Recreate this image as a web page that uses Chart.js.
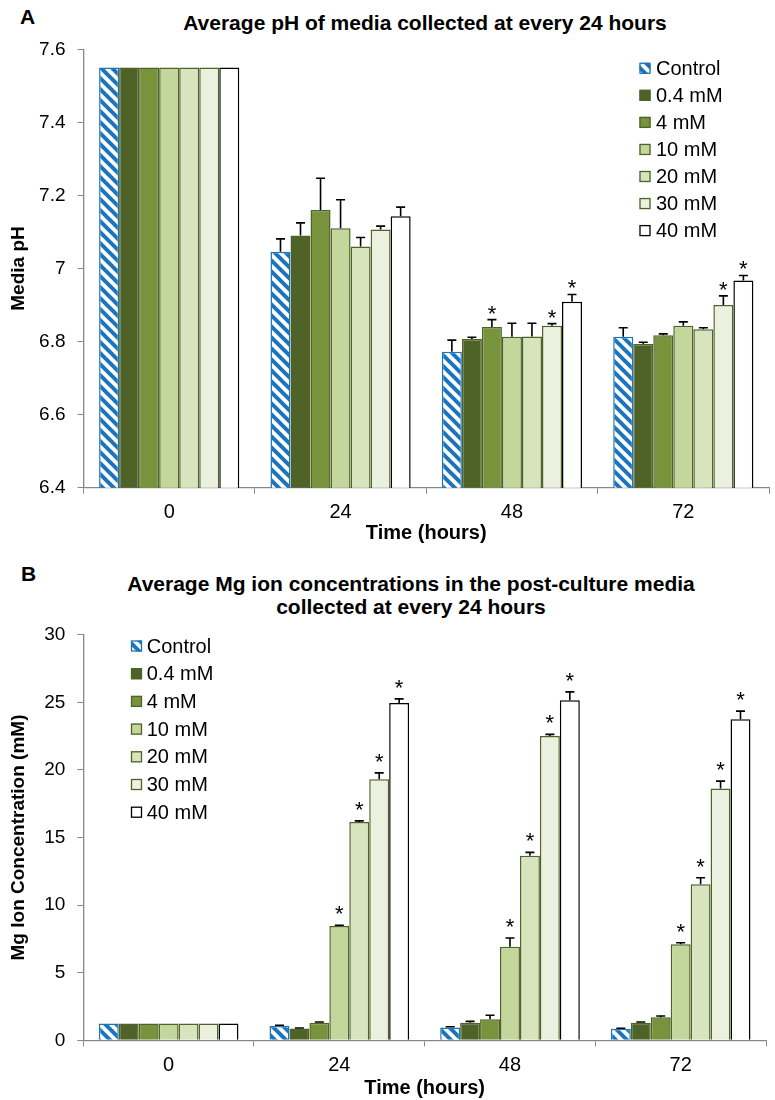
<!DOCTYPE html>
<html><head><meta charset="utf-8">
<script src="https://cdn.jsdelivr.net/npm/chart.js@4.4.1/dist/chart.umd.min.js"></script>
<style>
body{margin:0;background:#fff;width:775px;height:1100px;position:relative;overflow:hidden;font-family:"Liberation Sans",Arial,sans-serif;}
.t{position:absolute;font-weight:bold;color:#000;white-space:nowrap;line-height:24px;font-size:21px;}
canvas{position:absolute;left:0;}
</style></head><body>
<div class="t" style="left:20px;top:5px">A</div>
<div class="t" style="left:0;width:850px;text-align:center;top:11px">Average pH of media collected at every 24 hours</div>
<div class="t" style="left:21px;top:562px">B</div>
<div class="t" style="left:0;width:822px;text-align:center;top:572px">Average Mg ion concentrations in the post-culture media</div>
<div class="t" style="left:0;width:822px;text-align:center;top:595px">collected at every 24 hours</div>
<canvas id="cA" width="775" height="545" style="top:0"></canvas>
<canvas id="cB" width="775" height="555" style="top:545px"></canvas>
<script>
// ---------- data ----------
const categories = ['0', '24', '48', '72'];
const seriesNames = ['Control', '0.4 mM', '4 mM', '10 mM', '20 mM', '30 mM', '40 mM'];

// Panel A: media pH
const phControl = [7.55, 7.046, 6.772, 6.813];
const phMg04    = [7.55, 7.090, 6.807, 6.793];
const phMg4     = [7.55, 7.160, 6.840, 6.817];
const phMg10    = [7.55, 7.110, 6.813, 6.843];
const phMg20    = [7.55, 7.060, 6.814, 6.834];
const phMg30    = [7.55, 7.107, 6.843, 6.900];
const phMg40    = [7.55, 7.143, 6.909, 6.967];
const phErrControl = [null, 0.035, 0.032, 0.025];
const phErrMg04    = [null, 0.035, 0.005, 0.005];
const phErrMg4     = [null, 0.087, 0.020, 0.004];
const phErrMg10    = [null, 0.078, 0.037, 0.011];
const phErrMg20    = [null, 0.025, 0.036, 0.004];
const phErrMg30    = [null, 0.009, 0.006, 0.025];
const phErrMg40    = [null, 0.025, 0.020, 0.014];
const phStarControl = [0, 0, 0, 0];
const phStarMg04    = [0, 0, 0, 0];
const phStarMg4     = [0, 0, 1, 0];
const phStarMg10    = [0, 0, 0, 0];
const phStarMg20    = [0, 0, 0, 0];
const phStarMg30    = [0, 0, 1, 1];
const phStarMg40    = [0, 0, 1, 1];
const phTicks = ['6.4', '6.6', '6.8', '7', '7.2', '7.4', '7.6'];

// Panel B: Mg ion concentration (mM)
const mgControl = [1.25, 1.05, 0.95, 0.85];
const mgMg04    = [1.25, 0.87, 1.30, 1.30];
const mgMg4     = [1.25, 1.30, 1.55, 1.70];
const mgMg10    = [1.25, 8.45, 6.92, 7.10];
const mgMg20    = [1.25, 16.15, 13.65, 11.55];
const mgMg30    = [1.25, 19.30, 22.50, 18.62];
const mgMg40    = [1.25, 24.95, 25.15, 23.75];
const mgErrControl = [null, 0.06, 0.05, 0.04];
const mgErrMg04    = [null, 0.04, 0.10, 0.05];
const mgErrMg4     = [null, 0.05, 0.30, 0.10];
const mgErrMg10    = [null, 0.06, 0.65, 0.12];
const mgErrMg20    = [null, 0.08, 0.25, 0.47];
const mgErrMg30    = [null, 0.48, 0.13, 0.55];
const mgErrMg40    = [null, 0.30, 0.62, 0.60];
const mgStarControl = [0, 0, 0, 0];
const mgStarMg04    = [0, 0, 0, 0];
const mgStarMg4     = [0, 0, 0, 0];
const mgStarMg10    = [0, 1, 1, 1];
const mgStarMg20    = [0, 1, 1, 1];
const mgStarMg30    = [0, 1, 1, 1];
const mgStarMg40    = [0, 1, 1, 1];
const mgTicks = ['0', '5', '10', '15', '20', '25', '30'];

// ---------- styles ----------
const FONT = '"Liberation Sans", Arial, sans-serif';
Chart.defaults.font.family = FONT;
Chart.defaults.color = '#000';
const BLUE = '#1C75BC';
const OLIVE = '#4F6228';
const fills = [null, '#4F6228', '#77933C', '#C3D69B', '#D7E4BD', '#EBF1DE', '#FFFFFF'];
const borders = [BLUE, OLIVE, OLIVE, OLIVE, OLIVE, OLIVE, '#000000'];

function stripes(ctx) {
  const s = 11;
  const c = document.createElement('canvas');
  c.width = s; c.height = s;
  const g = c.getContext('2d');
  g.fillStyle = '#fff'; g.fillRect(0, 0, s, s);
  g.strokeStyle = BLUE; g.lineWidth = 4;
  g.beginPath();
  g.moveTo(-3, -3); g.lineTo(s + 3, s + 3);
  g.moveTo(-3, s - 3); g.lineTo(3, s + 3);
  g.moveTo(s - 3, -3); g.lineTo(s + 3, 3);
  g.stroke();
  return ctx.createPattern(c, 'repeat');
}

function buildSets(ctx, vals, errs, stars) {
  return vals.map((v, i) => ({
    label: seriesNames[i],
    data: v,
    errors: errs[i],
    stars: stars[i],
    backgroundColor: i === 0 ? stripes(ctx) : fills[i],
    borderColor: borders[i],
    borderWidth: 1.5,
    categoryPercentage: 0.818,
    barPercentage: 1.0
  }));
}

const errPlugin = {
  id: 'errs',
  afterDatasetsDraw(chart, args, opts) {
    const ctx = chart.ctx, y = chart.scales.y;
    chart.data.datasets.forEach((ds, i) => {
      const meta = chart.getDatasetMeta(i);
      meta.data.forEach((bar, j) => {
        const e = ds.errors[j];
        if (e == null) return;
        const top = y.getPixelForValue(ds.data[j] + e);
        ctx.save();
        ctx.strokeStyle = '#000'; ctx.lineWidth = 1.6;
        ctx.beginPath();
        ctx.moveTo(bar.x, bar.y); ctx.lineTo(bar.x, top);
        ctx.moveTo(bar.x - 4.5, top); ctx.lineTo(bar.x + 4.5, top);
        ctx.stroke();
        if (ds.stars[j]) {
          ctx.fillStyle = '#000';
          ctx.font = '22px ' + FONT;
          ctx.textAlign = 'center';
          ctx.textBaseline = 'alphabetic';
          ctx.fillText('*', bar.x, top + opts.starShift);
        }
        ctx.restore();
      });
    });
  }
};

const legendPlugin = {
  id: 'mylegend',
  afterDraw(chart, args, opts) {
    const ctx = chart.ctx;
    chart.data.datasets.forEach((ds, i) => {
      const cy = opts.y0 + i * opts.dy;
      const bx = opts.x, bs = 11;
      ctx.save();
      ctx.fillStyle = ds.backgroundColor;
      ctx.fillRect(bx, cy - bs / 2, bs, bs);
      ctx.strokeStyle = ds.borderColor; ctx.lineWidth = 1.3;
      ctx.strokeRect(bx + 0.5, cy - bs / 2 + 0.5, bs - 1, bs - 1);
      ctx.fillStyle = '#000';
      ctx.font = '20px ' + FONT;
      ctx.textAlign = 'left'; ctx.textBaseline = 'middle';
      ctx.fillText(ds.label, opts.tx, cy + 1);
      ctx.restore();
    });
  }
};

function makeChart(id, cfg) {
  const canvas = document.getElementById(id);
  const ctx = canvas.getContext('2d');
  return new Chart(ctx, {
    type: 'bar',
    data: { labels: categories, datasets: buildSets(ctx, cfg.vals, cfg.errs, cfg.stars) },
    plugins: [errPlugin, legendPlugin],
    options: {
      responsive: false, animation: false, devicePixelRatio: 1,
      layout: { padding: { top: cfg.top, right: cfg.right, left: 0, bottom: 0 } },
      plugins: {
        legend: { display: false }, tooltip: { enabled: false },
        errs: { starShift: cfg.starShift },
        mylegend: cfg.legend
      },
      scales: {
        x: {
          afterFit: s => { s.height = cfg.xh; },
          grid: { offset: true, drawOnChartArea: false, drawTicks: true, tickLength: 6, color: '#878787', lineWidth: 1 },
          border: { color: '#878787', width: 1.3 },
          ticks: { font: { size: 20 }, padding: 7, color: '#000' },
          title: { display: true, text: 'Time (hours)', font: { size: 20, weight: 'bold' }, padding: { top: 0, bottom: 0 }, color: '#000' }
        },
        y: {
          min: cfg.min, max: cfg.max,
          afterFit: s => { s.width = cfg.yw; },
          afterBuildTicks: s => { s.ticks = cfg.tickLabels.map(t => ({ value: parseFloat(t) })); },
          grid: { drawOnChartArea: false, drawTicks: true, tickLength: 6, color: '#878787', lineWidth: 1 },
          border: { color: '#878787', width: 1.3 },
          ticks: { font: { size: 19 }, padding: 12, color: '#000', callback: (v, i) => cfg.tickLabels[i] },
          title: { display: true, text: cfg.ytitle, font: { size: 19, weight: 'bold' }, padding: { top: 7, bottom: 0 }, color: '#000' }
        }
      }
    }
  });
}

makeChart('cA', {
  vals: [phControl, phMg04, phMg4, phMg10, phMg20, phMg30, phMg40],
  errs: [phErrControl, phErrMg04, phErrMg4, phErrMg10, phErrMg20, phErrMg30, phErrMg40],
  stars: [phStarControl, phStarMg04, phStarMg4, phStarMg10, phStarMg20, phStarMg30, phStarMg40],
  min: 6.4, max: 7.6, tickLabels: phTicks, ytitle: 'Media pH',
  top: 49.3, right: 6, xh: 57.3, yw: 83.5, starShift: 1,
  legend: { x: 639.5, tx: 656, y0: 68.3, dy: 27.05 }
});

makeChart('cB', {
  vals: [mgControl, mgMg04, mgMg4, mgMg10, mgMg20, mgMg30, mgMg40],
  errs: [mgErrControl, mgErrMg04, mgErrMg4, mgErrMg10, mgErrMg20, mgErrMg30, mgErrMg40],
  stars: [mgStarControl, mgStarMg04, mgStarMg4, mgStarMg10, mgStarMg20, mgStarMg30, mgStarMg40],
  min: 0, max: 30, tickLabels: mgTicks, ytitle: 'Mg Ion Concentration (mM)',
  top: 89.7, right: 9, xh: 59.7, yw: 83.3, starShift: -4,
  legend: { x: 131, tx: 146.7, y0: 101, dy: 27.7 }
});
</script>
</body></html>
